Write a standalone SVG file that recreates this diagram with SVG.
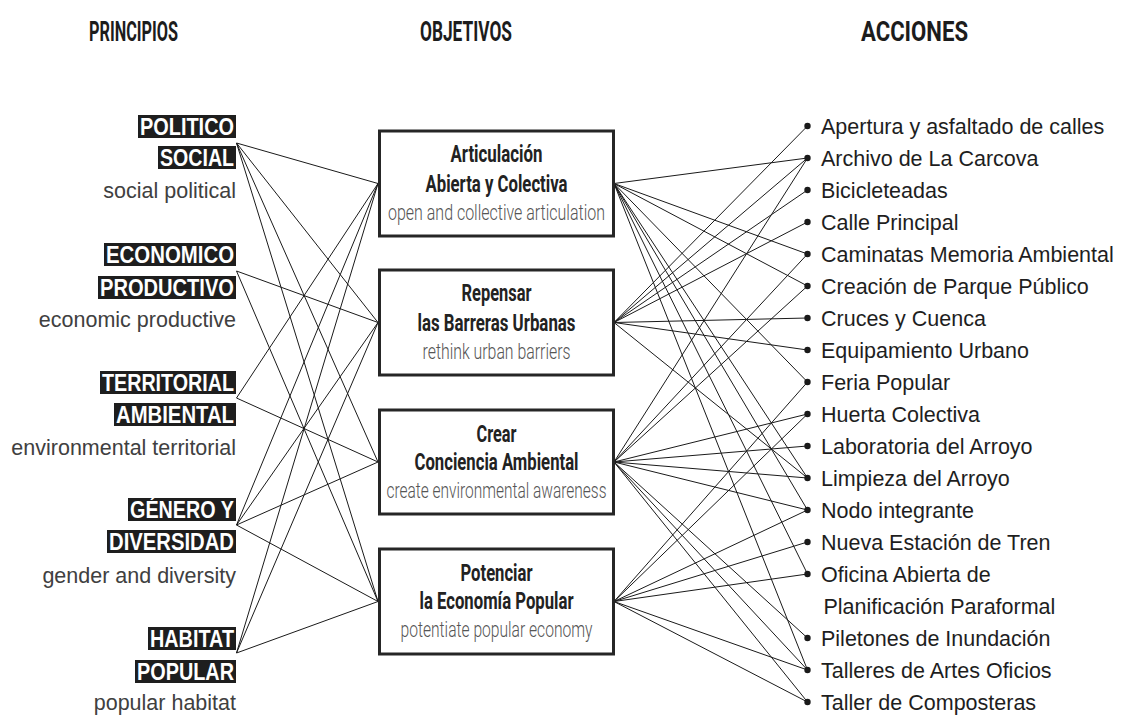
<svg xmlns="http://www.w3.org/2000/svg" width="1122" height="717" viewBox="0 0 1122 717">
  <style>
    .head { font-family: Roboto, "Liberation Sans", sans-serif; font-weight: bold; font-size: 28px; fill: #1c1c1c; }
    .tag-bg { fill: #1e1e1e; }
    .tag { font-family: "Liberation Sans", Arial, sans-serif; font-weight: bold; font-size: 23.5px; fill: #ffffff; text-anchor: end; }
    .sub { font-family: "Liberation Sans", Arial, sans-serif; font-size: 21.5px; fill: #404040; text-anchor: end; }
    .box { fill: #ffffff; stroke: #262626; stroke-width: 3; }
    .btitle { font-family: Roboto, "Liberation Sans", sans-serif; font-weight: bold; font-size: 23px; fill: #222222; text-anchor: middle; }
    .bsub { font-family: Roboto, "Liberation Sans", sans-serif; font-weight: 300; font-size: 22px; fill: #555555; text-anchor: middle; }
    .act { font-family: "Liberation Sans", Arial, sans-serif; font-size: 21.5px; fill: #1e1e1e; }
    .dot { fill: #1a1a1a; }
    .links line { stroke: #1a1a1a; stroke-width: 1; fill: none; }
  </style>

  <!-- column headings -->
  <g id="headings">
    <text class="head" x="89" y="41" textLength="89" lengthAdjust="spacingAndGlyphs">PRINCIPIOS</text>
    <text class="head" x="420" y="41" textLength="92" lengthAdjust="spacingAndGlyphs">OBJETIVOS</text>
    <text class="head" x="861" y="41" textLength="107" lengthAdjust="spacingAndGlyphs">ACCIONES</text>
  </g>

  <!-- connectors: principles -> objectives -> actions -->
  <g id="connectors" class="links">
    <!-- POLITICO SOCIAL -->
    <line x1="236.5" y1="143" x2="378" y2="183.5"/>
    <line x1="236.5" y1="143" x2="378" y2="322.5"/>
    <line x1="236.5" y1="143" x2="378" y2="462"/>
    <line x1="236.5" y1="143" x2="378" y2="601.5"/>
    <!-- ECONOMICO PRODUCTIVO -->
    <line x1="236.5" y1="271" x2="378" y2="322.5"/>
    <line x1="236.5" y1="271" x2="378" y2="601.5"/>
    <!-- TERRITORIAL AMBIENTAL -->
    <line x1="236.5" y1="398" x2="378" y2="183.5"/>
    <line x1="236.5" y1="398" x2="378" y2="462"/>
    <!-- GÉNERO Y DIVERSIDAD -->
    <line x1="236.5" y1="525" x2="378" y2="183.5"/>
    <line x1="236.5" y1="525" x2="378" y2="322.5"/>
    <line x1="236.5" y1="525" x2="378" y2="462"/>
    <line x1="236.5" y1="525" x2="378" y2="601.5"/>
    <!-- HABITAT POPULAR -->
    <line x1="236.5" y1="653" x2="378" y2="183.5"/>
    <line x1="236.5" y1="653" x2="378" y2="322.5"/>
    <line x1="236.5" y1="653" x2="378" y2="601.5"/>

    <!-- Articulación Abierta y Colectiva -->
    <line x1="614" y1="183.5" x2="807.5" y2="158"/>
    <line x1="614" y1="183.5" x2="807.5" y2="254"/>
    <line x1="614" y1="183.5" x2="807.5" y2="286"/>
    <line x1="614" y1="183.5" x2="807.5" y2="382"/>
    <line x1="614" y1="183.5" x2="807.5" y2="478"/>
    <line x1="614" y1="183.5" x2="807.5" y2="510"/>
    <line x1="614" y1="183.5" x2="807.5" y2="574"/>
    <line x1="614" y1="183.5" x2="807.5" y2="670"/>
    <!-- Repensar las Barreras Urbanas -->
    <line x1="614" y1="322.5" x2="807.5" y2="126"/>
    <line x1="614" y1="322.5" x2="807.5" y2="158"/>
    <line x1="614" y1="322.5" x2="807.5" y2="190"/>
    <line x1="614" y1="322.5" x2="807.5" y2="222"/>
    <line x1="614" y1="322.5" x2="807.5" y2="318"/>
    <line x1="614" y1="322.5" x2="807.5" y2="350"/>
    <line x1="614" y1="322.5" x2="807.5" y2="478"/>
    <!-- Crear Conciencia Ambiental -->
    <line x1="614" y1="462" x2="807.5" y2="158"/>
    <line x1="614" y1="462" x2="807.5" y2="254"/>
    <line x1="614" y1="462" x2="807.5" y2="286"/>
    <line x1="614" y1="462" x2="807.5" y2="414"/>
    <line x1="614" y1="462" x2="807.5" y2="446"/>
    <line x1="614" y1="462" x2="807.5" y2="478"/>
    <line x1="614" y1="462" x2="807.5" y2="510"/>
    <line x1="614" y1="462" x2="807.5" y2="638"/>
    <line x1="614" y1="462" x2="807.5" y2="670"/>
    <line x1="614" y1="462" x2="807.5" y2="702"/>
    <!-- Potenciar la Economía Popular -->
    <line x1="614" y1="601.5" x2="807.5" y2="382"/>
    <line x1="614" y1="601.5" x2="807.5" y2="414"/>
    <line x1="614" y1="601.5" x2="807.5" y2="510"/>
    <line x1="614" y1="601.5" x2="807.5" y2="542"/>
    <line x1="614" y1="601.5" x2="807.5" y2="574"/>
    <line x1="614" y1="601.5" x2="807.5" y2="670"/>
    <line x1="614" y1="601.5" x2="807.5" y2="702"/>
  </g>

  <!-- principles -->
  <g id="principio-politico-social">
    <rect class="tag-bg" x="138" y="115" width="98" height="23"/>
    <text class="tag" x="234" y="135" textLength="94" lengthAdjust="spacingAndGlyphs">POLITICO</text>
    <rect class="tag-bg" x="158" y="146" width="78" height="23"/>
    <text class="tag" x="234" y="166" textLength="74" lengthAdjust="spacingAndGlyphs">SOCIAL</text>
    <text class="sub" x="236" y="198">social political</text>
  </g>
  <g id="principio-economico-productivo">
    <rect class="tag-bg" x="104" y="243" width="132" height="23"/>
    <text class="tag" x="234" y="263" textLength="128" lengthAdjust="spacingAndGlyphs">ECONOMICO</text>
    <rect class="tag-bg" x="98" y="276" width="138" height="23"/>
    <text class="tag" x="234" y="296" textLength="134" lengthAdjust="spacingAndGlyphs">PRODUCTIVO</text>
    <text class="sub" x="236" y="327">economic productive</text>
  </g>
  <g id="principio-territorial-ambiental">
    <rect class="tag-bg" x="100" y="371" width="136" height="23"/>
    <text class="tag" x="234" y="391" textLength="132" lengthAdjust="spacingAndGlyphs">TERRITORIAL</text>
    <rect class="tag-bg" x="114" y="403" width="122" height="23"/>
    <text class="tag" x="234" y="423" textLength="118" lengthAdjust="spacingAndGlyphs">AMBIENTAL</text>
    <text class="sub" x="236" y="455">environmental territorial</text>
  </g>
  <g id="principio-genero-diversidad">
    <rect class="tag-bg" x="128" y="498" width="108" height="23"/>
    <text class="tag" x="234" y="518" textLength="104" lengthAdjust="spacingAndGlyphs">GÉNERO Y</text>
    <rect class="tag-bg" x="107" y="530" width="129" height="23"/>
    <text class="tag" x="234" y="550" textLength="125" lengthAdjust="spacingAndGlyphs">DIVERSIDAD</text>
    <text class="sub" x="236" y="583">gender and diversity</text>
  </g>
  <g id="principio-habitat-popular">
    <rect class="tag-bg" x="148" y="627" width="88" height="23"/>
    <text class="tag" x="234" y="647" textLength="84" lengthAdjust="spacingAndGlyphs">HABITAT</text>
    <rect class="tag-bg" x="135" y="660" width="101" height="23"/>
    <text class="tag" x="234" y="680" textLength="97" lengthAdjust="spacingAndGlyphs">POPULAR</text>
    <text class="sub" x="236" y="710">popular habitat</text>
  </g>

  <!-- objectives -->
  <g id="objetivo-articulacion">
    <rect class="box" x="379.5" y="131" width="234" height="105"/>
    <text class="btitle" x="496.5" y="162" textLength="92" lengthAdjust="spacingAndGlyphs">Articulación</text>
    <text class="btitle" x="496.5" y="192" textLength="142" lengthAdjust="spacingAndGlyphs">Abierta y Colectiva</text>
    <text class="bsub" x="496.5" y="220" textLength="217" lengthAdjust="spacingAndGlyphs">open and collective articulation</text>
  </g>
  <g id="objetivo-repensar">
    <rect class="box" x="379.5" y="270" width="234" height="105"/>
    <text class="btitle" x="496.5" y="301" textLength="70" lengthAdjust="spacingAndGlyphs">Repensar</text>
    <text class="btitle" x="496.5" y="331" textLength="158" lengthAdjust="spacingAndGlyphs">las Barreras Urbanas</text>
    <text class="bsub" x="496.5" y="359" textLength="148" lengthAdjust="spacingAndGlyphs">rethink urban barriers</text>
  </g>
  <g id="objetivo-crear">
    <rect class="box" x="379.5" y="410" width="234" height="104"/>
    <text class="btitle" x="496.5" y="442" textLength="40" lengthAdjust="spacingAndGlyphs">Crear</text>
    <text class="btitle" x="496.5" y="470" textLength="164" lengthAdjust="spacingAndGlyphs">Conciencia Ambiental</text>
    <text class="bsub" x="496.5" y="498" textLength="220" lengthAdjust="spacingAndGlyphs">create environmental awareness</text>
  </g>
  <g id="objetivo-potenciar">
    <rect class="box" x="379.5" y="549" width="234" height="105"/>
    <text class="btitle" x="496.5" y="581" textLength="72" lengthAdjust="spacingAndGlyphs">Potenciar</text>
    <text class="btitle" x="496.5" y="609" textLength="154" lengthAdjust="spacingAndGlyphs">la Economía Popular</text>
    <text class="bsub" x="496.5" y="637" textLength="192" lengthAdjust="spacingAndGlyphs">potentiate popular economy</text>
  </g>

  <!-- actions -->
  <g id="acciones">
    <g id="accion-apertura"><circle class="dot" cx="807.5" cy="126" r="3.2"/><text class="act" x="821" y="134">Apertura y asfaltado de calles</text></g>
    <g id="accion-archivo"><circle class="dot" cx="807.5" cy="158" r="3.2"/><text class="act" x="821" y="166">Archivo de La Carcova</text></g>
    <g id="accion-bicicleteadas"><circle class="dot" cx="807.5" cy="190" r="3.2"/><text class="act" x="821" y="198">Bicicleteadas</text></g>
    <g id="accion-calle"><circle class="dot" cx="807.5" cy="222" r="3.2"/><text class="act" x="821" y="230">Calle Principal</text></g>
    <g id="accion-caminatas"><circle class="dot" cx="807.5" cy="254" r="3.2"/><text class="act" x="821" y="262">Caminatas Memoria Ambiental</text></g>
    <g id="accion-parque"><circle class="dot" cx="807.5" cy="286" r="3.2"/><text class="act" x="821" y="294">Creación de Parque Público</text></g>
    <g id="accion-cruces"><circle class="dot" cx="807.5" cy="318" r="3.2"/><text class="act" x="821" y="326">Cruces y Cuenca</text></g>
    <g id="accion-equipamiento"><circle class="dot" cx="807.5" cy="350" r="3.2"/><text class="act" x="821" y="358">Equipamiento Urbano</text></g>
    <g id="accion-feria"><circle class="dot" cx="807.5" cy="382" r="3.2"/><text class="act" x="821" y="390">Feria Popular</text></g>
    <g id="accion-huerta"><circle class="dot" cx="807.5" cy="414" r="3.2"/><text class="act" x="821" y="422">Huerta Colectiva</text></g>
    <g id="accion-laboratoria"><circle class="dot" cx="807.5" cy="446" r="3.2"/><text class="act" x="821" y="454">Laboratoria del Arroyo</text></g>
    <g id="accion-limpieza"><circle class="dot" cx="807.5" cy="478" r="3.2"/><text class="act" x="821" y="486">Limpieza del Arroyo</text></g>
    <g id="accion-nodo"><circle class="dot" cx="807.5" cy="510" r="3.2"/><text class="act" x="821" y="518">Nodo integrante</text></g>
    <g id="accion-estacion"><circle class="dot" cx="807.5" cy="542" r="3.2"/><text class="act" x="821" y="550">Nueva Estación de Tren</text></g>
    <g id="accion-oficina"><circle class="dot" cx="807.5" cy="574" r="3.2"/><text class="act" x="821" y="582">Oficina Abierta de</text><text class="act" x="823.5" y="614">Planificación Paraformal</text></g>
    <g id="accion-piletones"><circle class="dot" cx="807.5" cy="638" r="3.2"/><text class="act" x="821" y="646">Piletones de Inundación</text></g>
    <g id="accion-talleres"><circle class="dot" cx="807.5" cy="670" r="3.2"/><text class="act" x="821" y="678">Talleres de Artes Oficios</text></g>
    <g id="accion-composteras"><circle class="dot" cx="807.5" cy="702" r="3.2"/><text class="act" x="821" y="710">Taller de Composteras</text></g>
  </g>
</svg>
